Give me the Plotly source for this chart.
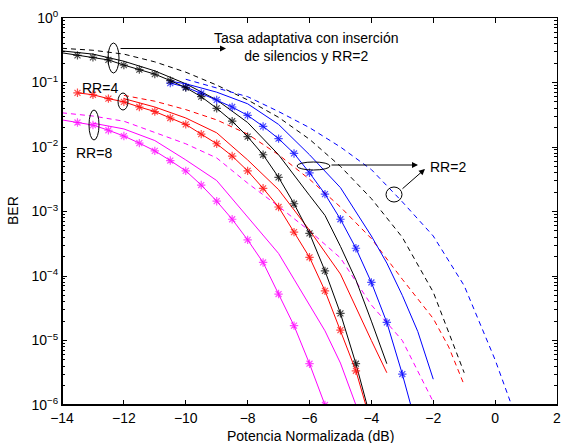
import plotly.graph_objects as go

# ---------------- data (log10 of BER) ----------------
# star markers are placed every 0.5 dB
x_bk_star = [-14, -13.5, -13, -12.5, -12, -11.5, -11, -10.5, -10, -9.5, -9, -8.5, -8, -7.5, -7, -6.5, -6, -5.5, -5, -4.5, -4]
l_bk_star = [-0.54, -0.58, -0.61, -0.65, -0.73, -0.80, -0.87, -0.97, -1.08, -1.22, -1.40, -1.60, -1.84, -2.12, -2.47, -2.88, -3.34, -3.92, -4.58, -5.36, -6.25]

x_bk_sol = [-14, -13, -12, -11, -10, -9, -8, -7, -6, -5.5, -5, -4.5, -4, -3.5]
l_bk_sol = [-0.51, -0.56, -0.67, -0.82, -1.02, -1.27, -1.62, -2.12, -2.75, -3.06, -3.54, -4.06, -4.70, -5.36]

x_bk_dash = [-14, -13, -12, -11, -10, -9, -8, -7, -6, -5, -4, -3, -2, -1]
l_bk_dash = [-0.47, -0.50, -0.56, -0.68, -0.84, -1.04, -1.27, -1.54, -1.88, -2.30, -2.80, -3.40, -4.25, -5.50]

x_bl_star = [-10.5, -10, -9.5, -9, -8.5, -8, -7.5, -7, -6.5, -6, -5.5, -5, -4.5, -4, -3.5, -3, -2.5]
l_bl_star = [-1.01, -1.07, -1.17, -1.27, -1.38, -1.51, -1.68, -1.87, -2.10, -2.40, -2.73, -3.12, -3.57, -4.10, -4.72, -5.52, -6.40]

x_bl_sol = [-10.5, -10, -9, -8, -7, -6, -5, -4, -3.5, -3, -2.5, -2]
l_bl_sol = [-0.98, -1.02, -1.15, -1.33, -1.65, -2.12, -2.63, -3.38, -3.80, -4.30, -4.86, -5.60]

x_bl_dash = [-10, -9, -8, -7, -6, -5, -4, -3, -2, -1, 0, 0.5, 1]
l_bl_dash = [-0.95, -1.08, -1.22, -1.45, -1.70, -2.00, -2.35, -2.85, -3.38, -4.15, -5.30, -5.96, -6.70]

x_rd_star = [-13.5, -13, -12.5, -12, -11.5, -11, -10.5, -10, -9.5, -9, -8.5, -8, -7.5, -7, -6.5, -6, -5.5, -5, -4.5, -4]
l_rd_star = [-1.16, -1.19, -1.25, -1.30, -1.38, -1.45, -1.55, -1.65, -1.80, -1.95, -2.14, -2.37, -2.64, -2.93, -3.32, -3.71, -4.23, -4.84, -5.47, -6.30]

x_rd_sol = [-12, -11, -10, -9, -8, -7, -6, -5, -4, -3.5]
l_rd_sol = [-1.25, -1.38, -1.55, -1.78, -2.20, -2.66, -3.29, -3.97, -5.00, -5.50]

x_rd_dash = [-12, -11, -10, -9, -8, -7, -6, -5, -4, -3, -2, -1.5, -1]
l_rd_dash = [-1.20, -1.29, -1.42, -1.58, -1.80, -2.12, -2.50, -2.93, -3.42, -4.05, -4.66, -5.10, -5.69]

x_mg_star = [-14, -13.5, -13, -12.5, -12, -11.5, -11, -10.5, -10, -9.5, -9, -8.5, -8, -7.5, -7, -6.5, -6, -5.5]
l_mg_star = [-1.58, -1.62, -1.66, -1.74, -1.83, -1.94, -2.06, -2.21, -2.37, -2.59, -2.84, -3.12, -3.44, -3.79, -4.28, -4.77, -5.36, -6.00]

x_mg_sol = [-13, -12, -11, -10, -9, -8, -7, -6.5, -6, -5.5, -5, -4.5]
l_mg_sol = [-1.63, -1.72, -1.90, -2.20, -2.52, -3.08, -3.65, -4.05, -4.45, -4.85, -5.35, -6.00]

x_mg_dash = [-14, -13, -12, -11, -10, -9, -8, -7, -6, -5, -4, -3, -2]
l_mg_dash = [-1.47, -1.52, -1.60, -1.78, -1.95, -2.17, -2.56, -2.92, -3.30, -3.72, -4.45, -5.00, -5.95]

x_ticks = [-14, -12, -10, -8, -6, -4, -2, 0, 2]
y_tick_exp = [-6, -5, -4, -3, -2, -1, 0]

BLACK, BLUE, RED, MAG = "#000000", "#0000ff", "#ff0000", "#ff00ff"

fig = go.Figure()

def to_ber(l):
    return [10 ** v for v in l]

def add_star(x, l, color, skip_first=False):
    sizes = [7] * len(x)
    if skip_first:
        sizes[0] = 0
    fig.add_trace(go.Scatter(x=x, y=to_ber(l), mode="lines+markers",
                             line=dict(color=color, width=1),
                             marker=dict(symbol="asterisk-open", size=sizes,
                                         color=color, line=dict(color=color, width=1.2)),
                             showlegend=False))

def add_line(x, l, color, dash=None):
    fig.add_trace(go.Scatter(x=x, y=to_ber(l), mode="lines",
                             line=dict(color=color, width=1, dash=dash or "solid"),
                             showlegend=False))

DASH = "5px,4px"
add_line(x_bk_dash, l_bk_dash, BLACK, DASH)
add_line(x_bl_dash, l_bl_dash, BLUE, DASH)
add_line(x_rd_dash, l_rd_dash, RED, DASH)
add_line(x_mg_dash, l_mg_dash, MAG, DASH)
add_line(x_bk_sol, l_bk_sol, BLACK)
add_line(x_bl_sol, l_bl_sol, BLUE)
add_line(x_rd_sol, l_rd_sol, RED)
add_line(x_mg_sol, l_mg_sol, MAG)
add_star(x_bl_star, l_bl_star, BLUE)
add_star(x_bk_star, l_bk_star, BLACK, skip_first=True)
add_star(x_rd_star, l_rd_star, RED)
add_star(x_mg_star, l_mg_star, MAG, skip_first=True)

FONT = dict(family="Liberation Sans, Arial, sans-serif", size=14, color="black")

fig.update_xaxes(range=[-14, 2], tickvals=x_ticks,
                 ticktext=[("\u2212" + str(-v)) if v < 0 else str(v) for v in x_ticks],
                 ticks="inside", ticklen=5, tickcolor="black",
                 showline=True, linecolor="black", linewidth=1, mirror="ticks",
                 showgrid=False, zeroline=False, tickfont=FONT, automargin=False)
fig.update_yaxes(type="log", range=[-6, 0],
                 tickvals=[10 ** e for e in y_tick_exp],
                 ticktext=["10<sup>" + ("\u2212" + str(-e) if e < 0 else str(e)) + "</sup>" for e in y_tick_exp],
                 ticks="inside", ticklen=5, tickcolor="black",
                 minor=dict(ticks="inside", ticklen=3, dtick="D1", tickcolor="black", showgrid=False),
                 showline=True, linecolor="black", linewidth=1, mirror="ticks",
                 showgrid=False, zeroline=False, tickfont=FONT, automargin=False)

# plot area in pixels: x 62..557, y 18..405
def px(p):
    return (p - 62) / 495.0

def py(p):
    return (405 - p) / 387.0

def ell(x0, x1, y0, y1):
    return dict(type="circle", xref="paper", yref="paper", x0=px(x0), x1=px(x1),
                y0=py(y1), y1=py(y0), line=dict(color="black", width=1), layer="above")

shapes = [
    dict(type="line", xref="paper", yref="paper", x0=0, x1=1, y0=0, y1=0, line=dict(color="black", width=2)),
    dict(type="line", xref="paper", yref="paper", x0=0, x1=0, y0=0, y1=1, line=dict(color="black", width=2)),
    ell(108, 119, 43, 73),
    ell(118, 128, 93, 110),
    ell(89, 99, 110, 140),
    ell(297, 330, 162, 170),
    ell(386, 402, 187, 202),
]

def arrow(x0, y0, x1, y1):
    return dict(x=px(x1), y=py(y1), ax=x0 - x1, ay=y0 - y1, xref="paper", yref="paper",
                axref="pixel", ayref="pixel", showarrow=True, arrowhead=2, arrowsize=1.2,
                arrowwidth=1, arrowcolor="black", text="")

def label(x, y, text, **kw):
    d = dict(x=px(x), y=py(y), xref="paper", yref="paper", showarrow=False, text=text,
             font=FONT, xanchor="center", yanchor="middle")
    d.update(kw)
    return d

annotations = [
    arrow(119, 48.5, 226, 48.5),
    arrow(330, 165, 418, 165),
    arrow(401, 190, 425, 169),
    label(306, 46.5, "Tasa adaptativa con inserción<br>de silencios y RR=2", align="center"),
    label(100, 88, "RR=4"),
    label(94, 153, "RR=8"),
    label(428, 167, "RR=2", xanchor="left"),
    label(310, 436, "Potencia Normalizada (dB)"),
    label(13, 211, "BER", textangle=-90),
]

fig.update_layout(width=573, height=443, margin=dict(l=62, r=16, t=18, b=38),
                  paper_bgcolor="white", plot_bgcolor="white",
                  shapes=shapes, annotations=annotations, font=FONT)

fig.write_html("out.html", config={"displayModeBar": False},
               post_script="document.body.style.margin='0px';document.body.style.padding='0px';")
